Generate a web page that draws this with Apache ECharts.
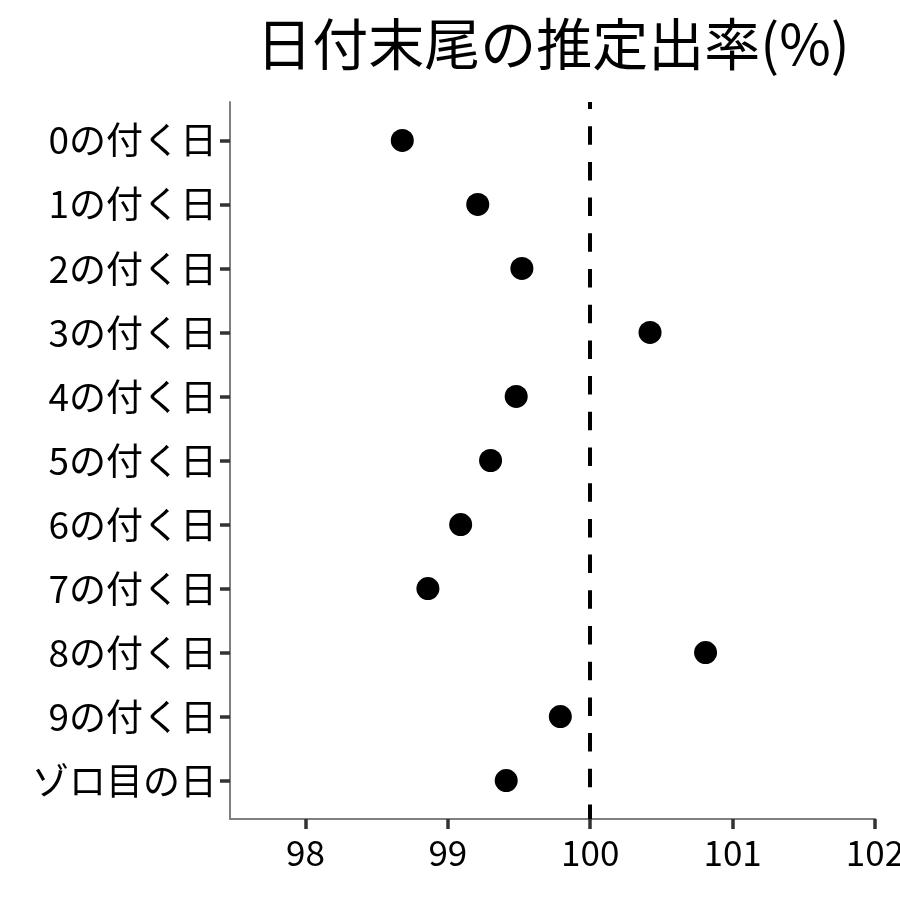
<!DOCTYPE html>
<html>
<head>
<meta charset="utf-8">
<script src="https://cdn.jsdelivr.net/npm/echarts@6/dist/echarts.min.js"></script>
<style>html,body{margin:0;padding:0;background:#fff;}#c{width:900px;height:900px;}</style>
</head>
<body>
<div id="c"></div>
<script>
const categories = ['0の付く日','1の付く日','2の付く日','3の付く日','4の付く日','5の付く日','6の付く日','7の付く日','8の付く日','9の付く日','ゾロ目の日'];
const values = [98.68, 99.21, 99.52, 100.42, 99.48, 99.30, 99.09, 98.86, 100.81, 99.79, 99.41];
const xTicks = [98, 99, 100, 101, 102];
const refValue = 100;
const yIdx = categories.map((c, i) => i);

const FONT = '"Noto Sans CJK JP", "Noto Sans", sans-serif';
const chart = echarts.init(document.getElementById('c'), null, {renderer: 'canvas'});
chart.setOption({
  animation: false,
  backgroundColor: '#fff',
  title: {
    text: '日付末尾の推定出率(%)',
    left: 548, top: 11, textAlign: 'center',
    textStyle: {fontFamily: FONT, fontSize: 56, fontWeight: 'normal', color: '#000'}
  },
  grid: {left: 230, right: 25, top: 102, bottom: 81, outerBoundsMode: 'none', containLabel: false},
  xAxis: {
    type: 'value', min: 97.47, max: 102,
    axisLine: {show: true, onZero: false, lineStyle: {color: '#808080', width: 2}},
    axisTick: {show: true, customValues: xTicks, length: 10, lineStyle: {color: '#333', width: 3.5}},
    axisLabel: {customValues: xTicks, fontFamily: FONT, fontSize: 35, color: '#000', margin: 16},
    splitLine: {show: false}
  },
  yAxis: {
    type: 'value', inverse: true, min: -0.6, max: 10.6,
    axisLine: {show: true, onZero: false, lineStyle: {color: '#808080', width: 2}},
    axisTick: {show: true, customValues: yIdx, length: 10, lineStyle: {color: '#333', width: 3.5}},
    axisLabel: {customValues: yIdx, formatter: v => categories[Math.round(v)], fontFamily: FONT, fontSize: 37, color: '#000', margin: 13},
    splitLine: {show: false}
  },
  series: [{
    type: 'scatter',
    symbolSize: 23,
    itemStyle: {color: '#000', opacity: 1},
    data: values.map((v, i) => [v, i]),
    markLine: {
      silent: true, symbol: 'none', label: {show: false},
      lineStyle: {color: '#000', type: [18.5, 17.2], dashOffset: 11.5, width: 4, opacity: 1},
      data: [{xAxis: refValue}]
    }
  }]
});
</script>
</body>
</html>
